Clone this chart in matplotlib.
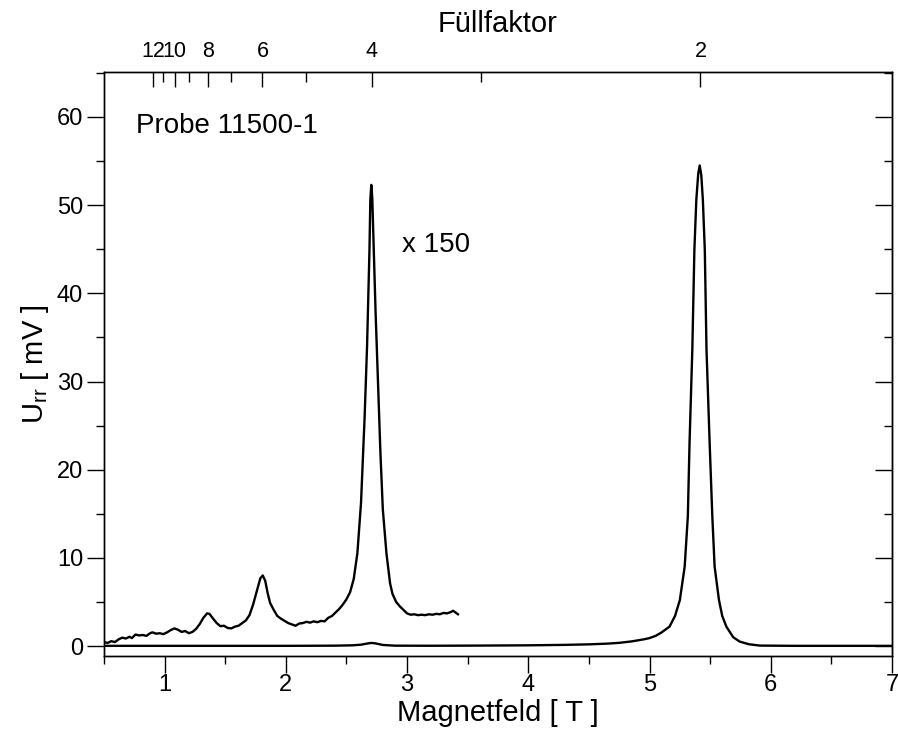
import matplotlib
matplotlib.use("Agg")
import matplotlib.pyplot as plt
from matplotlib.ticker import MultipleLocator, FixedLocator

plt.rcParams['font.family'] = ['Liberation Sans', 'DejaVu Sans']
plt.rcParams['mathtext.fontset'] = 'custom'
plt.rcParams['mathtext.rm'] = 'Liberation Sans'
plt.rcParams['mathtext.it'] = 'Liberation Sans:italic'

# x150 magnified curve (Magnetfeld [T], U_rr x150 [mV])
b_mag = [0.50, 0.53, 0.56, 0.59, 0.62, 0.65, 0.68, 0.71, 0.73, 0.76, 0.79, 0.82, 0.85, 0.88,
         0.90, 0.93, 0.96, 0.99, 1.02, 1.05, 1.08, 1.11, 1.14, 1.17, 1.20, 1.23, 1.26, 1.29,
         1.32, 1.35, 1.37, 1.40, 1.43, 1.46, 1.49, 1.52, 1.55, 1.58, 1.61, 1.64, 1.67, 1.70,
         1.73, 1.76, 1.79, 1.81, 1.83, 1.85, 1.87, 1.90, 1.93, 1.96, 1.99, 2.02, 2.05, 2.08,
         2.11, 2.14, 2.17, 2.20, 2.23, 2.26, 2.29, 2.32, 2.35, 2.38, 2.41, 2.44, 2.47, 2.50,
         2.53, 2.56, 2.59, 2.62, 2.65, 2.67, 2.69, 2.697, 2.705, 2.713, 2.72, 2.74, 2.76, 2.78,
         2.80, 2.83, 2.86, 2.88, 2.91, 2.94, 2.97, 3.00, 3.03, 3.06, 3.09, 3.12, 3.15, 3.18,
         3.21, 3.24, 3.27, 3.30, 3.33, 3.36, 3.38, 3.40, 3.42]
u_mag = [0.45, 0.35, 0.55, 0.45, 0.75, 0.95, 0.85, 1.05, 0.90, 1.30, 1.20, 1.25, 1.15, 1.45,
         1.55, 1.40, 1.45, 1.35, 1.55, 1.80, 2.00, 1.85, 1.60, 1.70, 1.45, 1.60, 1.95, 2.50,
         3.20, 3.70, 3.65, 3.10, 2.60, 2.25, 2.30, 2.05, 2.00, 2.20, 2.30, 2.60, 2.90, 3.50,
         4.70, 6.20, 7.70, 8.00, 7.40, 6.00, 4.90, 4.10, 3.40, 3.10, 2.85, 2.60, 2.45, 2.30,
         2.55, 2.60, 2.75, 2.65, 2.80, 2.70, 2.85, 2.80, 3.20, 3.40, 3.80, 4.20, 4.70, 5.30,
         6.10, 7.60, 10.5, 16.2, 26.0, 34.0, 45.0, 50.6, 52.3, 50.8, 47.5, 38.0, 30.0, 22.0,
         15.5, 10.5, 7.10, 5.90, 5.00, 4.50, 4.10, 3.70, 3.55, 3.60, 3.50, 3.55, 3.50, 3.60,
         3.55, 3.65, 3.60, 3.75, 3.70, 3.85, 4.00, 3.80, 3.60]

# unmagnified curve
b_raw = [0.50, 1.00, 2.00, 2.40, 2.55, 2.62, 2.67, 2.705, 2.74, 2.80, 2.90, 3.20, 3.60, 4.00,
         4.30, 4.50, 4.65, 4.75, 4.85, 4.95, 5.00, 5.05, 5.10, 5.165, 5.21, 5.25, 5.29, 5.316,
         5.33, 5.353, 5.37, 5.386, 5.402, 5.414, 5.427, 5.44, 5.456, 5.47, 5.496, 5.518, 5.537,
         5.573, 5.60, 5.634, 5.69, 5.744, 5.82, 5.91, 6.20, 7.00]
u_raw = [0.02, 0.02, 0.02, 0.04, 0.08, 0.15, 0.28, 0.35, 0.30, 0.12, 0.04, 0.03, 0.05, 0.08,
         0.13, 0.19, 0.27, 0.36, 0.52, 0.75, 0.90, 1.15, 1.55, 2.20, 3.40, 5.20, 9.00, 14.7,
         23.0, 33.6, 44.9, 50.6, 53.6, 54.5, 53.4, 50.6, 44.9, 33.6, 23.0, 14.7, 9.00,
         5.20, 3.40, 2.20, 1.00, 0.50, 0.20, 0.05, 0.02, 0.02]

# filling factor axis
nu_major = [12, 10, 8, 6, 4, 2]
nu_minor = [11, 9, 7, 5, 3]
b_nu2 = 5.42  # field of filling factor 2

fig = plt.figure(figsize=(8.98, 7.35), dpi=100)
ax = fig.add_axes([0.1158, 0.1075, 0.8775, 0.7945])

ax.plot(b_raw, u_raw, color='black', lw=1.7)
ax.plot(b_mag, u_mag, color='black', lw=1.7)

ax.set_xlim(0.5, 7)
ax.set_ylim(-1.13, 65.1)
ax.xaxis.set_major_locator(MultipleLocator(1))
ax.xaxis.set_minor_locator(MultipleLocator(0.5))
ax.yaxis.set_major_locator(MultipleLocator(10))
ax.yaxis.set_minor_locator(MultipleLocator(5))
ax.tick_params(axis='x', which='major', direction='out', length=12, width=1, labelsize=17, pad=1,
               top=False)
ax.tick_params(axis='x', which='minor', direction='out', length=6, width=1, top=False)
ax.tick_params(axis='y', which='major', direction='out', length=12, width=1, labelsize=17, pad=3)
ax.tick_params(axis='y', which='minor', direction='out', length=6, width=1)

ax.set_xlabel('Magnetfeld [ T ]', fontsize=21, labelpad=2)
ax.set_ylabel('U$_{\\mathrm{rr}}$ [ mV ]', fontsize=21, labelpad=4)

# right axis ticks pointing inward
axr = ax.secondary_yaxis('right')
axr.yaxis.set_major_locator(MultipleLocator(10))
axr.yaxis.set_minor_locator(MultipleLocator(5))
axr.tick_params(axis='y', which='major', direction='in', length=12, width=1, labelright=False)
axr.tick_params(axis='y', which='minor', direction='in', length=6, width=1)

# top axis: filling factor
axt = ax.twiny()
axt.set_xlim(ax.get_xlim())
axt.xaxis.set_major_locator(FixedLocator([2 * b_nu2 / n for n in nu_major]))
axt.xaxis.set_minor_locator(FixedLocator([2 * b_nu2 / n for n in nu_minor]))
axt.set_xticklabels([str(n) for n in nu_major])
axt.tick_params(axis='x', which='major', direction='in', length=11, width=1, labelsize=15.5, pad=7)
axt.tick_params(axis='x', which='minor', direction='in', length=7, width=1)
axt.set_xlabel('Füllfaktor', fontsize=21, labelpad=7)

for a in (ax, axt):
    for s in a.spines.values():
        s.set_linewidth(1.0)

ax.text(0.76, 59, 'Probe 11500-1', fontsize=20, ha='left', va='center')
ax.text(2.96, 45.5, 'x 150', fontsize=20, ha='left', va='center')

fig.savefig('out.png', dpi=100)
